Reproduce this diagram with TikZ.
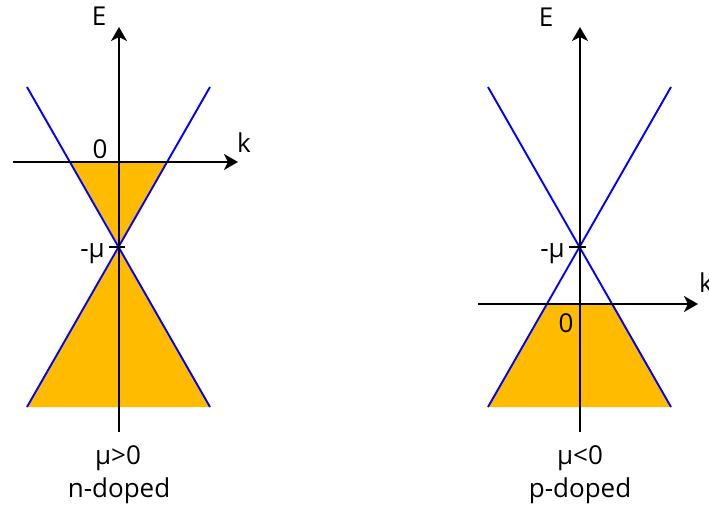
\documentclass[tikz,border=0pt]{standalone}
\usepackage{fontspec}
\setmainfont{Open Sans}
\usetikzlibrary{arrows.meta}
\definecolor{fermi}{RGB}{255,187,0}
\tikzset{
  axis/.style={line width=1.9pt, black, -{Stealth[length=14pt,width=16pt,inset=4pt]}},
  plainaxis/.style={line width=1.9pt, black},
  cone/.style={line width=1.9pt, blue},
  lbl/.style={font=\fontsize{26}{30}\selectfont, inner sep=0pt, anchor=base},
  fillreg/.style={fill=fermi, draw=none},
}
\begin{document}
\begin{tikzpicture}[x=1pt,y=-1pt]
\useasboundingbox (0,0) rectangle (709,508);
% ---------- left (n-doped) ----------
\coordinate (Lc) at (119,246);
\coordinate (Lul) at (27,87);
\coordinate (Lur) at (210,87);
\coordinate (Lll) at (27,407);
\coordinate (Llr) at (210,407);
\coordinate (Lfl) at (70.4,162);
\coordinate (Lfr) at (167.6,162);
\fill[fillreg] (Lfl) -- (Lfr) -- (Lc) -- cycle;
\fill[fillreg] (Lc) -- (Llr) -- (Lll) -- cycle;
\draw[cone] (Lul) -- (Llr);
\draw[cone] (Lur) -- (Lll);
\coordinate (Lvb) at (119,432);
\coordinate (Lvt) at (119,27);
\coordinate (Lhl) at (13,162);
\coordinate (Lhr) at (238,162);
\draw[axis] (Lvb) -- (Lvt);
\draw[axis] (Lhl) -- (Lhr);
\coordinate (Ltl) at (109,247);
\coordinate (Ltr) at (125,247);
\draw[plainaxis] (Ltl) -- (Ltr);
\node[lbl] (LE) at (99,26) {E};
\node[lbl] (Lk) at (244,153) {k};
\node[lbl] (L0) at (100,158) {0};
\node[lbl, anchor=base east] (Lmu) at (105,257) {-μ};
\node[lbl] (Lcond) at (118,464) {μ>0};
\node[lbl] (Ltype) at (119,497) {n-doped};
% ---------- right (p-doped) ----------
\coordinate (Rc) at (580,246);
\coordinate (Rul) at (488,87);
\coordinate (Rur) at (671,87);
\coordinate (Rll) at (488,407);
\coordinate (Rlr) at (671,407);
\coordinate (Rfl) at (546.6,304);
\coordinate (Rfr) at (613.4,304);
\fill[fillreg] (Rfl) -- (Rfr) -- (Rlr) -- (Rll) -- cycle;
\draw[cone] (Rul) -- (Rlr);
\draw[cone] (Rur) -- (Rll);
\coordinate (Rvb) at (580,432);
\coordinate (Rvt) at (580,27);
\coordinate (Rhl) at (478,304);
\coordinate (Rhr) at (698,304);
\draw[axis] (Rvb) -- (Rvt);
\draw[axis] (Rhl) -- (Rhr);
\coordinate (Rtl) at (569,247);
\coordinate (Rtr) at (586,247);
\draw[plainaxis] (Rtl) -- (Rtr);
\node[lbl] (RE) at (546,27) {E};
\node[lbl, anchor=base west] (Rk) at (699,292) {k};
\node[lbl] (R0) at (566,332) {0};
\node[lbl, anchor=base east] (Rmu) at (565,257) {-μ};
\node[lbl] (Rcond) at (580,464) {μ<0};
\node[lbl] (Rtype) at (580,497) {p-doped};
\end{tikzpicture}
\end{document}
